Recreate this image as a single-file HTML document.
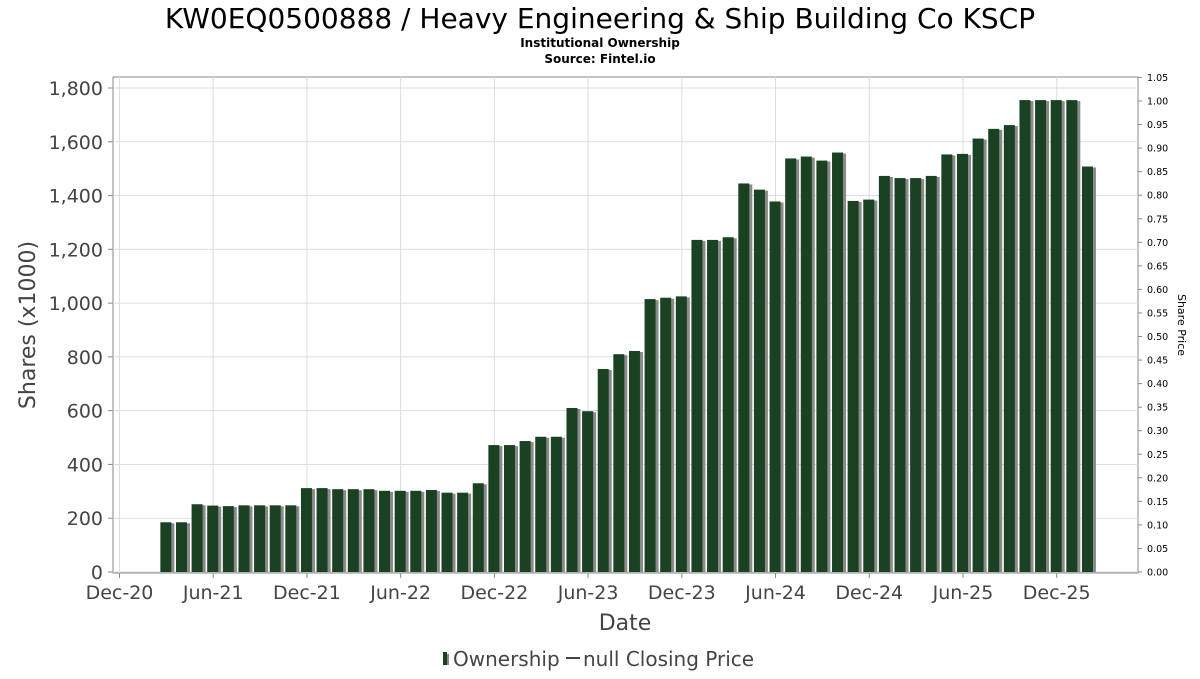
<!DOCTYPE html>
<html><head><meta charset="utf-8"><style>
body{margin:0;background:#fff;font-family:"DejaVu Sans","Liberation Sans",sans-serif}
</style></head><body>
<svg id="c" width="1200" height="675" xmlns="http://www.w3.org/2000/svg">
<text x="600" y="28" text-anchor="middle" font-size="28" fill="#000">KW0EQ0500888 / Heavy Engineering &amp; Ship Building Co KSCP</text>
<text x="600" y="47" text-anchor="middle" font-size="12" font-weight="bold">Institutional Ownership</text>
<text x="600" y="63" text-anchor="middle" font-size="12" font-weight="bold">Source: Fintel.io</text>
<rect x="113" y="77" width="1025" height="496" fill="#fff" stroke="#888"/>
<g id="grid"></g><g id="bars"></g><g id="axes"></g>
<text transform="translate(35,325) rotate(-90)" text-anchor="middle" font-size="22" fill="#444">Shares (x1000)</text>
<text transform="translate(1178,325) rotate(90)" text-anchor="middle" font-size="11" fill="#000">Share Price</text>
<text x="625" y="630" text-anchor="middle" font-size="22" fill="#444">Date</text>
<g>
<rect x="443" y="652" width="4" height="13" fill="#1a4222"/>
<rect x="447" y="654" width="2" height="11" fill="#888"/>
<text x="453" y="666" font-size="20" fill="#444">Ownership</text>
<line x1="566" y1="658" x2="580" y2="658" stroke="#444" stroke-width="2"/>
<text x="583" y="666" font-size="20" fill="#444">null Closing Price</text>
</g>
</svg>
<script>
const ownership=[185,185,252,247,245,248,248,248,248,312,312,308,308,308,302,302,302,305,295,295,330,472,472,487,503,503,610,598,755,810,822,1015,1020,1025,1235,1235,1245,1445,1422,1378,1538,1545,1530,1560,1380,1385,1473,1465,1465,1473,1553,1555,1612,1648,1662,1755,1755,1755,1755,1508];
const firstMonthOffset=3;
const leftTicks=[0,200,400,600,800,1000,1200,1400,1600,1800];
const rightTicks=[0,0.05,0.1,0.15,0.2,0.25,0.3,0.35,0.4,0.45,0.5,0.55,0.6,0.65,0.7,0.75,0.8,0.85,0.9,0.95,1.0,1.05];
const xLabels=["Dec-20","Jun-21","Dec-21","Jun-22","Dec-22","Jun-23","Dec-23","Jun-24","Dec-24","Jun-25","Dec-25"];
const NS="http://www.w3.org/2000/svg";
const y=v=>572-v*(484/1800);
const yr=v=>572-v*(471/1.0);
const x=m=>119.5+m*15.62;
function mk(t,a,p){const e=document.createElementNS(NS,t);for(const k in a)e.setAttribute(k,a[k]);p.appendChild(e);return e;}
const grid=document.getElementById('grid'),bars=document.getElementById('bars'),axes=document.getElementById('axes');
leftTicks.forEach(v=>{
 const l=mk('line',{x1:113,x2:1138,y1:y(v),y2:y(v),stroke:'#ddd'},grid);
 
 
 mk('line',{x1:108,x2:113,y1:y(v),y2:y(v),stroke:'#888'},axes);
 const t=mk('text',{x:103,y:y(v)+7,'text-anchor':'end','font-size':19,fill:'#444'},axes);
 t.textContent=v.toLocaleString('en-US');
 
 
});
rightTicks.forEach(v=>{
 mk('line',{x1:1138,x2:1142,y1:yr(v),y2:yr(v),stroke:'#888'},axes);
 const t=mk('text',{x:1147,y:yr(v)+3.5,'font-size':9.5,fill:'#000'},axes);
 t.textContent=v.toFixed(2);
 
 
});
xLabels.forEach((s,i)=>{
 const xx=x(i*6);
 const l=mk('line',{x1:xx,x2:xx,y1:77,y2:573,stroke:'#ddd'},grid);
 
 
 mk('line',{x1:xx,x2:xx,y1:573,y2:578,stroke:'#888'},axes);
 const t=mk('text',{x:xx,y:599,'text-anchor':'middle','font-size':19,fill:'#444'},axes);
 t.textContent=s;
 
 
});
ownership.forEach((v,i)=>{
 const cx=x(i+firstMonthOffset);
 mk('rect',{x:cx-4,y:y(v)+1,width:12,height:572-y(v)-1,fill:'#8a8a8a'},bars);
 const b=mk('rect',{x:cx-6,y:y(v),width:11,height:572-y(v),fill:'#1a4222'},bars);
 
 
});
</script>
</body></html>
